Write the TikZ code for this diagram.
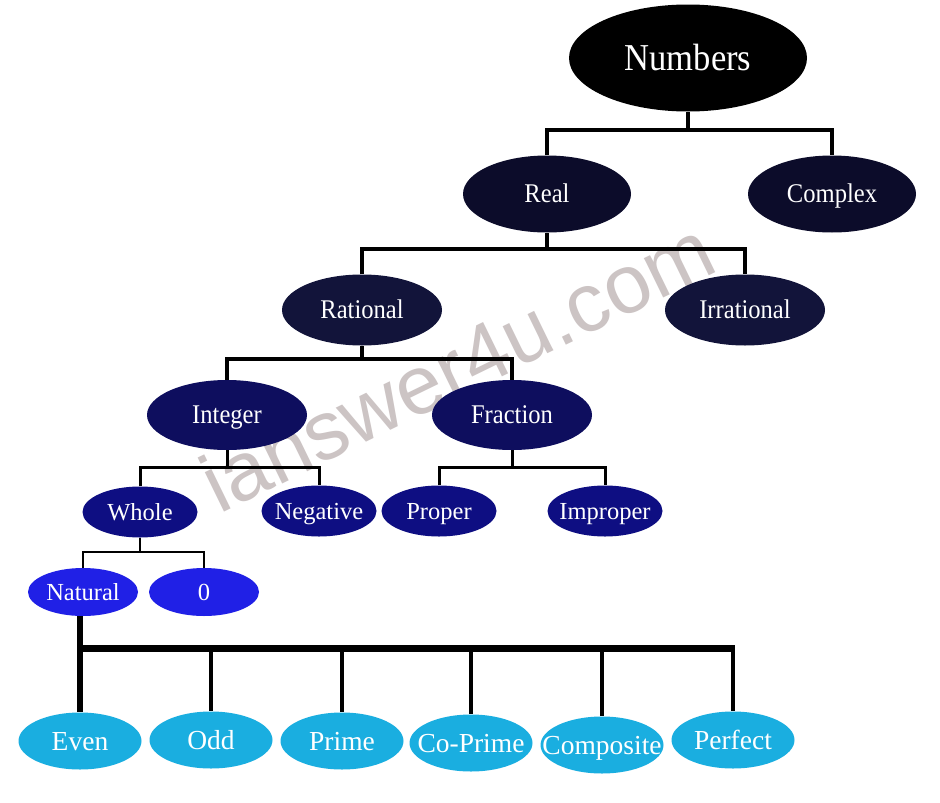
\documentclass[tikz,border=0pt]{standalone}
\usepackage{fontspec}
\setmainfont{Liberation Serif}
\newfontfamily\condfont[FakeStretch=0.91]{Liberation Serif}
\newfontfamily\wmfont{Liberation Sans}
\usetikzlibrary{shapes.geometric}
\definecolor{cBlack}{RGB}{0,0,0}
\definecolor{cLvlA}{RGB}{12,12,42}
\definecolor{cLvlB}{RGB}{18,20,58}
\definecolor{cLvlC}{RGB}{14,14,94}
\definecolor{cLvlD}{RGB}{14,14,130}
\definecolor{cLvlE}{RGB}{32,32,230}
\definecolor{cLvlF}{RGB}{26,174,224}
\definecolor{cWM}{RGB}{204,196,196}
\tikzset{
  blob/.style={ellipse, inner sep=0pt, text=white, draw=none, text depth=0pt,
    execute at begin node={\hbox to 0pt\bgroup\hss},
    execute at end node={\hss\egroup}},
  bigblob/.style={blob, fill=cBlack, minimum width=238, minimum height=107, text height=25pt, font=\condfont\fontsize{38}{42}\selectfont},
  lvlA/.style={blob, fill=cLvlA, minimum width=168, minimum height=77, text height=17.8pt, font=\condfont\fontsize{27}{32}\selectfont},
  lvlB/.style={blob, fill=cLvlB, minimum width=160, minimum height=71, text height=17.8pt, font=\condfont\fontsize{27}{32}\selectfont},
  lvlC/.style={blob, fill=cLvlC, minimum width=160, minimum height=70, text height=17.8pt, font=\condfont\fontsize{27}{32}\selectfont},
  lvlD/.style={blob, fill=cLvlD, minimum width=115, minimum height=51, text height=16.2pt, font=\fontsize{24.5}{29}\selectfont},
  lvlE/.style={blob, fill=cLvlE, minimum width=110, minimum height=48, text height=16.2pt, font=\fontsize{24.5}{29}\selectfont},
  lvlF/.style={blob, fill=cLvlF, minimum width=123, minimum height=57, text height=18.2pt, font=\fontsize{27.5}{32}\selectfont},
  link/.style={draw=black, line width=4pt},
  linkmid/.style={draw=black, line width=3pt},
  linkthin/.style={draw=black, line width=2pt},
}
\begin{document}
\begin{tikzpicture}[x=1pt, y=-1pt]
\useasboundingbox[fill=white] (0,0) rectangle (940,803);
% watermark
\node[font=\wmfont\fontsize{83}{90}\selectfont, text=cWM, rotate=26, anchor=base, inner sep=0pt] (wm) at (470,392) {ianswer4u.com};
% nodes
\node[bigblob] (num) at (688,58) {Numbers};
\node[lvlA] (real) at (547,194) {Real};
\node[lvlA] (cplx) at (832,194) {Complex};
\node[lvlB] (rat) at (362,310) {Rational};
\node[lvlB] (irr) at (745,310) {Irrational};
\node[lvlC] (int) at (227,415) {Integer};
\node[lvlC] (frac) at (512,415) {Fraction};
\node[lvlD] (whole) at (140,512) {Whole};
\node[lvlD] (neg) at (319,511) {Negative};
\node[lvlD] (prop) at (439,511) {Proper};
\node[lvlD] (impr) at (605,511) {Improper};
\node[lvlE] (nat) at (83,592) {Natural};
\node[lvlE] (zero) at (204,592) {0};
\node[lvlF] (even) at (80,741) {Even};
\node[lvlF] (odd) at (211,740) {Odd};
\node[lvlF] (prime) at (342,741) {Prime};
\node[lvlF] (cop) at (471,743) {Co-Prime};
\node[lvlF] (comp) at (602,745) {Composite};
\node[lvlF] (perf) at (733,740) {Perfect};
% connectors
\draw[link] (num.south) -- ++(0,18) coordinate (jnum);
\draw[link] (real.north) |- (jnum) -| (cplx.north);
\draw[link] (real.south) -- ++(0,16) coordinate (jreal);
\draw[link] (rat.north) |- (jreal) -| (irr.north);
\draw[link] (rat.south) -- ++(0,13) coordinate (jrat);
\draw[link] (int.north) |- (jrat) -| (frac.north);
\draw[linkmid] (int.south) -- ++(0,17) coordinate (jint);
\draw[linkmid] (whole.north) |- (jint) -| (neg.north);
\draw[linkmid] (frac.south) -- ++(0,17) coordinate (jfrac);
\draw[linkmid] (prop.north) |- (jfrac) -| (impr.north);
\draw[linkthin] (whole.south) -- ++(0,14) coordinate (jwhole);
\draw[linkthin] (nat.north) |- (jwhole) -| (zero.north);
\coordinate (jbar) at (735,648);
\draw[draw=black, line width=6pt] (even.north |- nat.south) -- (even.north);
\draw[draw=black, line width=7pt] (even.north |- jbar) -- (jbar);
\foreach \n in {odd,prime,cop,comp,perf}{
  \draw[link] (\n.north |- jbar) -- (\n.north);
}
\end{tikzpicture}
\end{document}
